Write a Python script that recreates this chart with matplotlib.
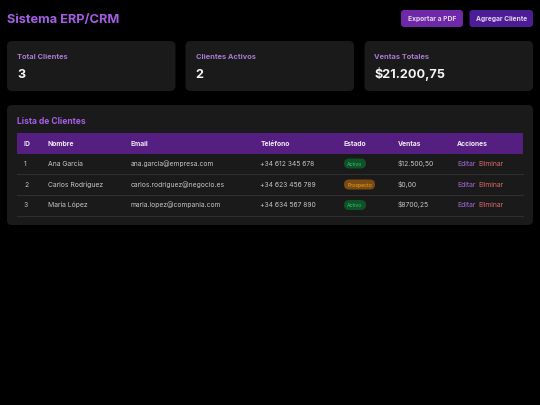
import matplotlib
matplotlib.use("Agg")
import matplotlib.pyplot as plt
from matplotlib.patches import FancyBboxPatch, Rectangle

plt.rcParams['font.family'] = ['Inter', 'DejaVu Sans']

title = "Sistema ERP/CRM"
buttons = ["Exportar a PDF", "Agregar Cliente"]
card_labels = ["Total Clientes", "Clientes Activos", "Ventas Totales"]
card_values = ["3", "2", "$21.200,75"]
table_title = "Lista de Clientes"
headers = ["ID", "Nombre", "Email", "Teléfono", "Estado", "Ventas", "Acciones"]
ids = ["1", "2", "3"]
names = ["Ana García", "Carlos Rodríguez", "María López"]
emails = ["ana.garcia@empresa.com", "carlos.rodriguez@negocio.es", "maria.lopez@compania.com"]
phones = ["+34 612 345 678", "+34 623 456 789", "+34 634 567 890"]
states = ["Activo", "Prospecto", "Activo"]
sales = ["$12.500,50", "$0,00", "$8700,25"]
actions = ["Editar", "Eliminar"]

PURPLE = "#a45ee5"
fig = plt.figure(figsize=(5.4, 4.05), dpi=100, facecolor="#000000")
ax = fig.add_axes([0, 0, 1, 1])
ax.set_xlim(0, 540)
ax.set_ylim(405, 0)
ax.axis("off")


def rbox(x, y, w, h, r, color, z=1):
    ax.add_patch(FancyBboxPatch((x + r, y + r), w - 2 * r, h - 2 * r,
                                boxstyle=f"round,pad={r},rounding_size={r}",
                                fc=color, ec="none", zorder=z))


def txt(x, y, s, size, color, weight="normal", ha="left"):
    # y is the visual middle of the digits/capitals; place by baseline so rows align
    ax.text(x, y + size * 0.50, s, fontsize=size, color=color, fontweight=weight, ha=ha,
            va="baseline", zorder=5)


txt(7, 18.5, title, 9.2, PURPLE, "bold")

rbox(401, 10, 62, 17, 3, "#6f28a8", 2)
txt(432, 18.5, buttons[0], 4.8, "#e3d4ef", "bold", "center")
rbox(469.5, 10, 63.5, 17, 3, "#4c1d95", 2)
txt(501.2, 18.5, buttons[1], 4.8, "#e3d4ef", "bold", "center")

card_x = [7, 185.5, 364.5]
card_w = 168.5
for x, lab, val in zip(card_x, card_labels, card_values):
    rbox(x, 41, card_w, 50, 5, "#1a1a1a", 2)
    txt(x + 10, 56.5, lab, 5.4, "#a67bd0", "bold")
    txt(x + 10, 73.5, val, 9.1, "#f5f5f5", "bold")

rbox(7, 105, 526, 120, 5, "#1a1a1a", 2)
txt(17, 120.5, table_title, 6.1, "#a45ee5", "bold")

ax.add_patch(Rectangle((17, 133), 506, 20.5, fc="#541f80", ec="none", zorder=3))
col_x = [24, 48, 130.5, 260.5, 344, 397.5, 457]
for x, h in zip(col_x, headers):
    txt(x, 143.5, h, 4.9, "#f0e8f6", "bold")

row_y = [163.5, 184.5, 205]
line_y = [174, 194.5, 215.5]
for ly in line_y:
    ax.plot([17, 523], [ly, ly], color="#2e2e2e", lw=0.8, zorder=3)

ROW = "#c4c4c4"
for i, y in enumerate(row_y):
    txt(col_x[0], y, ids[i], 4.9, ROW)
    txt(col_x[1], y, names[i], 4.9, ROW)
    txt(col_x[2], y, emails[i], 4.85, ROW)
    txt(col_x[3], y, phones[i], 4.85, ROW)
    txt(col_x[5], y, sales[i], 4.9, ROW)
    if states[i] == "Activo":
        rbox(344, y - 5, 22, 10, 5, "#0f5128", 4)
        txt(355, y + 0.3, states[i], 3.7, "#34c46a", "normal", "center")
    else:
        rbox(344, y - 5, 31, 10, 5, "#7a4a12", 4)
        txt(359.5, y + 0.3, states[i], 3.7, "#e9a91f", "normal", "center")
    txt(457, y, actions[0], 4.9, "#a56ada")
    txt(478.5, y, actions[1], 4.9, "#d96a6a")

fig.savefig("out.png", dpi=100, facecolor=fig.get_facecolor())
